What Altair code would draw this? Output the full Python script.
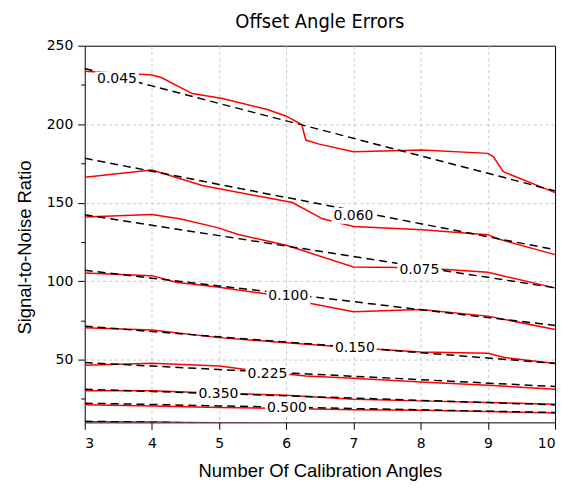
import altair as alt
import pandas as pd

# ---- data ----
x_int = [3, 4, 5, 6, 7, 8, 9, 10]

dashed_045 = [235.5, 224.4, 213.2, 202.1, 191.0, 179.8, 168.7, 157.5]
dashed_060 = [178.3, 170.0, 161.6, 153.3, 145.0, 136.6, 128.3, 120.0]
dashed_075 = [142.3, 135.6, 129.0, 122.3, 115.7, 109.0, 102.4, 95.7]
dashed_100 = [106.9, 101.9, 96.9, 91.9, 86.9, 81.8, 76.8, 71.8]
dashed_150 = [71.3, 67.9, 64.5, 61.2, 57.8, 54.4, 51.0, 47.6]
dashed_225 = [48.1, 45.9, 43.7, 41.5, 39.4, 37.2, 35.0, 32.8]
dashed_350 = [31.1, 29.7, 28.3, 26.9, 25.5, 24.0, 22.6, 21.2]
dashed_500 = [22.2, 21.4, 20.5, 19.7, 18.8, 18.0, 17.1, 16.3]
dashed_low = [10.7, 10.1, 9.5, 9.0, 8.5, 8.0, 7.5, 7.0]

red_045_x = [3, 4, 4.14, 4.6, 5.05, 5.72, 6.0, 6.23, 6.29, 6.49, 7.0, 8.02, 9.0, 9.08, 9.23, 10]
red_045_y = [233.7, 231.3, 229.7, 219.5, 216.3, 209.4, 205.1, 199.8, 189.9, 187.3, 182.4, 183.5, 181.4, 179.3, 169.7, 156.4]
red_060_x = [3, 4, 4.75, 6.09, 6.54, 7.0, 8.02, 9.0, 9.16, 10]
red_060_y = [166.2, 170.8, 160.9, 150.1, 139.7, 134.8, 132.7, 129.6, 126.8, 116.9]
red_075_x = [3, 4, 4.41, 4.95, 5.3, 6.0, 7.0, 8.0, 9.0, 10]
red_075_y = [140.8, 142.4, 139.7, 134.4, 129.6, 122.8, 109.0, 108.5, 105.6, 95.7]
red_100_x = [3, 4, 4.36, 5, 5.69, 6.19, 7.0, 8.0, 9.0, 10]
red_100_y = [105.2, 103.5, 99.3, 96.1, 91.9, 87.2, 80.5, 81.9, 77.7, 69.2]
red_150_x = [3, 4, 5, 6, 7, 8, 9, 9.25, 10]
red_150_y = [70.3, 68.8, 64.0, 60.8, 57.6, 54.8, 54.0, 51.3, 47.5]
red_225_x = [3, 4, 5, 5.69, 6.29, 7, 8, 9, 10]
red_225_y = [46.4, 47.6, 45.9, 42.1, 39.6, 38.1, 35.8, 33.7, 31.1]
red_350_x = [3, 4, 5, 6, 7, 8, 9, 10]
red_350_y = [30.1, 30.1, 28.6, 27.3, 24.8, 23.7, 22.7, 21.6]
red_500_x = [3, 4, 5, 6, 7, 8, 9, 10]
red_500_y = [21.2, 20.5, 19.5, 18.9, 18.0, 17.8, 17.0, 15.9]
red_low_x = [3, 4, 4.5, 5, 10]
red_low_y = [10.4, 10.2, 10.0, 9.7, 7.5]

label_text = ["0.045", "0.060", "0.075", "0.100", "0.150", "0.225", "0.350", "0.500"]
label_x = [3.48, 7.0, 7.98, 6.03, 7.02, 5.72, 4.99, 6.01]
label_y = [228.6, 141.6, 107.3, 90.2, 57.3, 40.8, 28.1, 19.1]

# ---- tables ----
dashed_sets = {"0.045": dashed_045, "0.060": dashed_060, "0.075": dashed_075,
               "0.100": dashed_100, "0.150": dashed_150, "0.225": dashed_225,
               "0.350": dashed_350, "0.500": dashed_500, "low": dashed_low}
rows = []
for k, ys in dashed_sets.items():
    for i, (xv, yv) in enumerate(zip(x_int, ys)):
        rows.append({"series": k, "x": xv, "y": yv, "o": i})
dashed_df = pd.DataFrame(rows)

red_sets = {"0.045": (red_045_x, red_045_y), "0.060": (red_060_x, red_060_y),
            "0.075": (red_075_x, red_075_y), "0.100": (red_100_x, red_100_y),
            "0.150": (red_150_x, red_150_y), "0.225": (red_225_x, red_225_y),
            "0.350": (red_350_x, red_350_y), "0.500": (red_500_x, red_500_y),
            "low": (red_low_x, red_low_y)}
rows = []
for k, (xs, ys) in red_sets.items():
    for i, (xv, yv) in enumerate(zip(xs, ys)):
        rows.append({"series": k, "x": xv, "y": yv, "o": i})
red_df = pd.DataFrame(rows)

label_df = pd.DataFrame({"label": label_text, "x": label_x, "y": label_y})

# ---- scales & axes ----
x_ticks = [3 + 0.5 * i for i in range(15)]
y_ticks = [25 * i for i in range(1, 11)]

x_axis = alt.Axis(
    values=x_ticks,
    labelExpr="datum.value % 1 === 0 ? format(datum.value, 'd') : ''",
    title="Number Of Calibration Angles",
    tickSize={"condition": {"test": "datum.value % 1 === 0", "value": 7}, "value": 4},
    gridOpacity={"condition": {"test": "datum.value % 1 === 0 && datum.value > 3 && datum.value < 10", "value": 1}, "value": 0},
    labelPadding=7,
    titlePadding=11,
    domain=False,
)
y_axis = alt.Axis(
    values=y_ticks,
    labelExpr="datum.value % 50 === 0 ? datum.label : ''",
    title="Signal-to-Noise Ratio",
    tickSize={"condition": {"test": "datum.value % 50 === 0", "value": 7}, "value": 4},
    gridOpacity={"condition": {"test": "datum.value % 50 === 0 && datum.value < 250", "value": 1}, "value": 0},
    labelPadding=5,
    titlePadding=12,
    titleY=202,
    domain=False,
)
xs = alt.Scale(domain=[3, 10], nice=False, zero=False)
ys = alt.Scale(domain=[10, 250], nice=False, zero=False)

red = alt.Chart(red_df).mark_line(color="#ff0000", strokeWidth=1.5, clip=True).encode(
    x=alt.X("x:Q", scale=xs, axis=x_axis),
    y=alt.Y("y:Q", scale=ys, axis=y_axis),
    detail="series:N",
    order="o:Q",
)
dashed = alt.Chart(dashed_df).mark_line(color="black", strokeWidth=1.5, strokeDash=[8, 5], clip=True).encode(
    x="x:Q", y="y:Q", detail="series:N", order="o:Q"
)
boxes = alt.Chart(label_df).mark_point(
    shape="M-1,-0.36L1,-0.36L1,0.36L-1,0.36Z", filled=True, fill="white", opacity=1, strokeWidth=0
).encode(x="x:Q", y="y:Q", size=alt.value(1936))
texts = alt.Chart(label_df).mark_text(font="DejaVu Sans", fontSize=14, color="black", baseline="middle").encode(
    x="x:Q", y="y:Q", text="label:N"
)

chart = alt.layer(red, dashed, boxes, texts).properties(
    width=472,
    height=378,
    title=alt.TitleParams("Offset Angle Errors", font="DejaVu Sans Condensed, DejaVu Sans", fontSize=20,
                          fontWeight="normal", color="black", offset=7, anchor="middle"),
    autosize=alt.AutoSizeParams(type="none"),
    padding={"left": 77, "top": 37, "right": 15, "bottom": 62},
).configure_view(stroke="black", strokeWidth=1).configure_axis(
    domainColor="black", tickColor="black", labelColor="black", titleColor="black",
    labelFont="DejaVu Sans", labelFontSize=14, titleFont="Liberation Sans",
    titleFontSize=18.5, titleFontWeight="normal",
    gridColor="#c8c8c8", gridDash=[3, 3], gridWidth=1,
)

chart.save("out.html", embed_options={"renderer": "svg", "actions": False})
